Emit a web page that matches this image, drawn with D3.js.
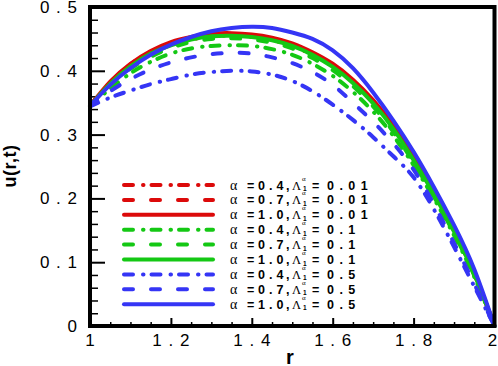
<!DOCTYPE html>
<html>
  <head>
    <meta charset="utf-8">
    <title>u(r,t)</title>
    <script src="https://d3js.org/d3.v7.min.js"></script>
    <style>
      body { margin: 0; background: #fff; }
      svg { display: block; }
    </style>
  </head>
  <body>
    <div id="chart"></div>
    <script type="text/javascript">

      // r grid the curves were read at
      var rGrid = [1.00, 1.05, 1.10, 1.15, 1.20, 1.25, 1.30, 1.35, 1.40, 1.45, 1.50,
                   1.55, 1.60, 1.65, 1.70, 1.75, 1.80, 1.85, 1.90, 1.95, 2.00];

      // u(r,t), one array per curve
      var u_a04_l001 = [0.345,0.381,0.408,0.428,0.441,0.449,0.454,0.455,0.453,0.448,0.439,0.425,0.407,0.382,0.350,0.310,0.261,0.208,0.149,0.081,0.0];
      var u_a07_l001 = [0.345,0.382,0.410,0.430,0.443,0.451,0.456,0.457,0.455,0.450,0.441,0.427,0.409,0.384,0.352,0.312,0.263,0.209,0.150,0.082,0.0];
      var u_a10_l001 = [0.345,0.383,0.411,0.431,0.445,0.453,0.458,0.459,0.457,0.452,0.443,0.429,0.411,0.386,0.354,0.314,0.265,0.211,0.151,0.083,0.0];
      var u_a04_l01  = [0.345,0.372,0.396,0.414,0.427,0.435,0.439,0.440,0.439,0.434,0.425,0.411,0.392,0.367,0.336,0.298,0.252,0.200,0.142,0.077,0.0];
      var u_a07_l01  = [0.345,0.377,0.403,0.422,0.436,0.445,0.450,0.451,0.449,0.444,0.435,0.420,0.401,0.376,0.344,0.304,0.256,0.203,0.145,0.079,0.0];
      var u_a10_l01  = [0.345,0.380,0.407,0.427,0.440,0.449,0.454,0.455,0.453,0.448,0.439,0.425,0.406,0.381,0.349,0.309,0.260,0.207,0.148,0.081,0.0];
      var u_a04_l05  = [0.344,0.358,0.369,0.379,0.387,0.394,0.398,0.400,0.399,0.394,0.384,0.368,0.347,0.323,0.296,0.266,0.233,0.183,0.124,0.062,0.0];
      var u_a07_l05  = [0.345,0.368,0.387,0.402,0.413,0.421,0.426,0.428,0.427,0.421,0.412,0.398,0.378,0.350,0.320,0.286,0.245,0.191,0.130,0.066,0.0];
      var u_a10_l05  = [0.345,0.378,0.404,0.425,0.441,0.453,0.462,0.467,0.469,0.467,0.460,0.450,0.432,0.404,0.366,0.322,0.273,0.218,0.158,0.089,0.0];

      // legend categories
      var alphaLabels  = ["0 . 4", "0 . 7", "1 . 0", "0 . 4", "0 . 7", "1 . 0", "0 . 4", "0 . 7", "1 . 0"];
      var lambdaLabels = ["0 . 0 1", "0 . 0 1", "0 . 0 1", "0 . 1", "0 . 1", "0 . 1", "0 . 5", "0 . 5", "0 . 5"];

      // tick values and labels
      var xTicks = [1, 1.2, 1.4, 1.6, 1.8, 2];
      var xTickLabels = ["1", "1 . 2", "1 . 4", "1 . 6", "1 . 8", "2"];
      var yTicks = [0, 0.1, 0.2, 0.3, 0.4, 0.5];
      var yTickLabels = ["0", "0 . 1", "0 . 2", "0 . 3", "0 . 4", "0 . 5"];

      var red = "#dc0a0a", green = "#14c814", blue = "#3535f5";
      var dashDot = "9,10,0.5,8", dashed = "9,18";

      var curves = [
        {u: u_a04_l001, color: red,   dash: dashDot},
        {u: u_a07_l001, color: red,   dash: dashed},
        {u: u_a10_l001, color: red,   dash: null},
        {u: u_a04_l01,  color: green, dash: dashDot},
        {u: u_a07_l01,  color: green, dash: dashed},
        {u: u_a10_l01,  color: green, dash: null},
        {u: u_a04_l05,  color: blue,  dash: dashDot},
        {u: u_a07_l05,  color: blue,  dash: dashed},
        {u: u_a10_l05,  color: blue,  dash: null}
      ];

      var W = 498, H = 366;
      var plot = {left: 90, right: 494.5, top: 7, bottom: 326};

      var svg = d3.select("#chart")
        .append("svg")
        .attr("width", W)
        .attr("height", H);

      var x = d3.scaleLinear().domain([1, 2]).range([plot.left, plot.right]);
      var y = d3.scaleLinear().domain([0, 0.5]).range([plot.bottom, plot.top]);

      var font = "Arial, 'Liberation Sans', sans-serif";

      // minor ticks
      svg.append("g")
        .attr("transform", "translate(" + plot.left + ",0)")
        .call(d3.axisLeft(y).tickValues(d3.range(0.02, 0.5, 0.02).filter(function(v){ return Math.abs(v * 10 - Math.round(v * 10)) > 1e-6; }))
          .tickSize(-8).tickFormat(""))
        .call(function(g){ g.select(".domain").remove(); g.selectAll("line").attr("stroke-width", 1.5); });

      svg.append("g")
        .attr("transform", "translate(0," + plot.bottom + ")")
        .call(d3.axisBottom(x).tickValues(d3.range(1.05, 2, 0.05).filter(function(v){ return Math.abs(v * 5 - Math.round(v * 5)) > 1e-6; }))
          .tickSize(-4).tickFormat(""))
        .call(function(g){ g.select(".domain").remove(); g.selectAll("line").attr("stroke-width", 1.5); });

      // major ticks + labels
      svg.append("g")
        .attr("transform", "translate(" + plot.left + ",0)")
        .call(d3.axisLeft(y).tickValues(yTicks).tickSize(-15).tickPadding(12)
          .tickFormat(function(d, i){ return yTickLabels[i]; }))
        .call(function(g){
          g.select(".domain").remove();
          g.selectAll("line").attr("stroke-width", 2);
          g.selectAll("text").attr("font-family", font).attr("font-size", 17)
            .attr("letter-spacing", 1).attr("fill", "#000");
        });

      svg.append("g")
        .attr("transform", "translate(0," + plot.bottom + ")")
        .call(d3.axisBottom(x).tickValues(xTicks).tickSize(-8).tickPadding(8)
          .tickFormat(function(d, i){ return xTickLabels[i]; }))
        .call(function(g){
          g.select(".domain").remove();
          g.selectAll("line").attr("stroke-width", 2);
          g.selectAll("text").attr("font-family", font).attr("font-size", 17)
            .attr("letter-spacing", 1).attr("fill", "#000");
          g.selectAll(".tick:last-of-type text").attr("dx", -2);
        });

      // curves
      var line = d3.line()
        .x(function(d){ return x(d[0]); })
        .y(function(d){ return y(d[1]); })
        .curve(d3.curveNatural);

      svg.append("g")
        .selectAll("path")
        .data(curves)
        .enter().append("path")
        .attr("d", function(c){ return line(rGrid.map(function(r, i){ return [r, c.u[i]]; })); })
        .attr("fill", "none")
        .attr("stroke", function(c){ return c.color; })
        .attr("stroke-width", 4)
        .attr("stroke-linecap", "round")
        .attr("stroke-dasharray", function(c){ return c.dash; });

      // frame
      svg.append("rect")
        .attr("x", plot.left)
        .attr("y", plot.top)
        .attr("width", plot.right - plot.left)
        .attr("height", plot.bottom - plot.top)
        .attr("fill", "none")
        .attr("stroke", "#000")
        .attr("stroke-width", 4);

      // axis titles
      svg.append("text")
        .attr("x", 290).attr("y", 364)
        .attr("text-anchor", "middle")
        .attr("font-family", font).attr("font-weight", "bold").attr("font-size", 20)
        .text("r");

      svg.append("text")
        .attr("transform", "translate(16,166) rotate(-90)")
        .attr("text-anchor", "middle")
        .attr("font-family", font).attr("font-weight", "bold").attr("font-size", 18)
        .attr("letter-spacing", 0.5)
        .text("u(r,t)");

      // legend
      var legY0 = 185, legStep = 14.9;
      var leg = svg.append("g")
        .selectAll("g")
        .data(curves)
        .enter().append("g")
        .attr("transform", function(d, i){ return "translate(0," + (legY0 + i * legStep) + ")"; });

      leg.append("line")
        .attr("x1", 124).attr("x2", 213)
        .attr("y1", 0).attr("y2", 0)
        .attr("stroke", function(c){ return c.color; })
        .attr("stroke-width", 4)
        .attr("stroke-linecap", "round")
        .attr("stroke-dasharray", function(c){ return c.dash; });

      var sym = "'Liberation Serif', 'DejaVu Serif', serif";
      function part(g, xp, txt, opts) {
        opts = opts || {};
        return g.append("text")
          .attr("x", xp).attr("y", opts.dy || 4.5)
          .attr("font-family", opts.sym ? sym : font)
          .attr("font-weight", opts.sym ? "normal" : "bold")
          .attr("font-size", opts.size || 12.5)
          .attr("letter-spacing", opts.ls || 0)
          .text(txt);
      }
      leg.each(function(c, i){
        var g = d3.select(this);
        part(g, 230, "\u03b1", {sym: true, size: 14});
        part(g, 247, "=");
        part(g, 258, alphaLabels[i], {ls: 0.3});
        part(g, 286, ",");
        part(g, 292, "\u039b", {sym: true, size: 12.5});
        part(g, 302, "\u03b1", {sym: true, size: 7, dy: -4.5});
        part(g, 303, "1", {size: 6.5, dy: 6});
        part(g, 312, "=");
        part(g, 327, lambdaLabels[i], {ls: 1});
      });

    </script>
  </body>
</html>
